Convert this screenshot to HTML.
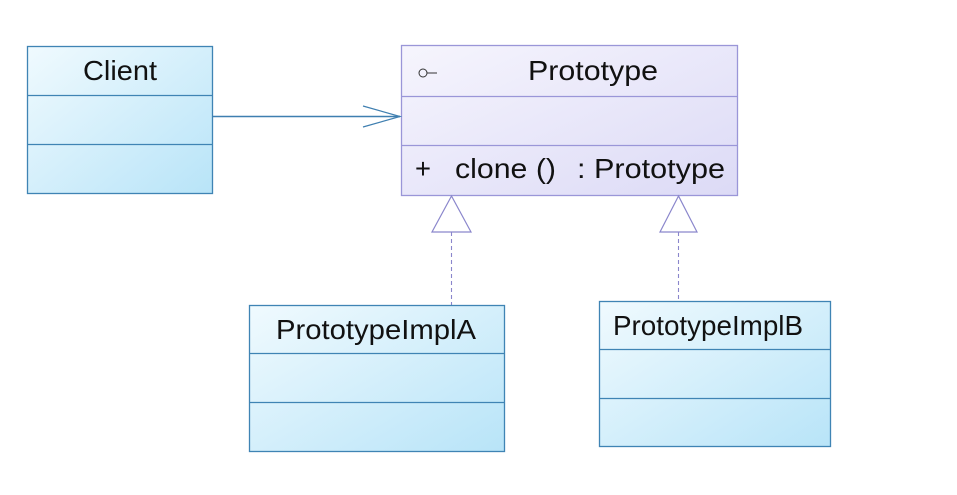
<!DOCTYPE html>
<html><head><meta charset="utf-8"><style>
html,body{margin:0;padding:0;background:#fff;}
body{width:957px;height:495px;position:relative;overflow:hidden;font-family:"Liberation Sans",Arial,sans-serif;}
</style></head><body>
<svg width="957" height="495" viewBox="0 0 957 495" xmlns="http://www.w3.org/2000/svg" style="position:absolute;left:0;top:0">
<defs>
<linearGradient id="blue" x1="0" y1="0" x2="1" y2="1">
<stop offset="0" stop-color="#f0fafe"/><stop offset="1" stop-color="#b8e4f8"/>
</linearGradient>
<linearGradient id="purp" x1="0" y1="0" x2="1" y2="1">
<stop offset="0" stop-color="#f6f5fd"/><stop offset="1" stop-color="#dcdaf6"/>
</linearGradient>
</defs>
<g font-family="Liberation Sans, Arial, sans-serif" fill="#111" font-size="28">
<!-- Client -->
<rect x="27.5" y="46.5" width="185" height="147" fill="url(#blue)" stroke="#3f84b4" stroke-width="1.3"/>
<line x1="27.5" y1="95.5" x2="212.5" y2="95.5" stroke="#3f84b4" stroke-width="1.3"/>
<line x1="27.5" y1="144.5" x2="212.5" y2="144.5" stroke="#3f84b4" stroke-width="1.3"/>
<text x="83" y="80" textLength="74" lengthAdjust="spacingAndGlyphs">Client</text>
<!-- Prototype -->
<rect x="401.5" y="45.5" width="336" height="150" fill="url(#purp)" stroke="#9a96d8" stroke-width="1.3"/>
<line x1="401.5" y1="96.5" x2="737.5" y2="96.5" stroke="#9a96d8" stroke-width="1.3"/>
<line x1="401.5" y1="145.5" x2="737.5" y2="145.5" stroke="#9a96d8" stroke-width="1.3"/>
<circle cx="423" cy="73" r="4" fill="none" stroke="#333" stroke-width="1"/>
<line x1="427" y1="73" x2="437" y2="73" stroke="#333" stroke-width="1"/>
<text x="528" y="80" textLength="130" lengthAdjust="spacingAndGlyphs">Prototype</text>
<text x="415" y="178" textLength="16" lengthAdjust="spacingAndGlyphs">+</text>
<text x="455" y="178" textLength="101" lengthAdjust="spacingAndGlyphs">clone ()</text>
<text x="577" y="178" textLength="148" lengthAdjust="spacingAndGlyphs">: Prototype</text>
<!-- association -->
<line x1="212" y1="116.5" x2="400" y2="116.5" stroke="#3f7fb0" stroke-width="1.6"/>
<polyline points="363,106 400,116.5 363,127" fill="none" stroke="#3f7fb0" stroke-width="1.2"/>
<!-- triangles -->
<polygon points="451.5,196 432,232 471,232" fill="#fff" stroke="#8a86cc" stroke-width="1.2"/>
<line x1="451.5" y1="232" x2="451.5" y2="305" stroke="#8a86cc" stroke-width="1.1" stroke-dasharray="4,3"/>
<polygon points="678.5,196 660,232 697,232" fill="#fff" stroke="#8a86cc" stroke-width="1.2"/>
<line x1="678.5" y1="232" x2="678.5" y2="301" stroke="#8a86cc" stroke-width="1.1" stroke-dasharray="4,3"/>
<!-- ImplA -->
<rect x="249.5" y="305.5" width="255" height="146" fill="url(#blue)" stroke="#3f84b4" stroke-width="1.3"/>
<line x1="249.5" y1="353.5" x2="504.5" y2="353.5" stroke="#3f84b4" stroke-width="1.3"/>
<line x1="249.5" y1="402.5" x2="504.5" y2="402.5" stroke="#3f84b4" stroke-width="1.3"/>
<text x="276" y="339" textLength="200" lengthAdjust="spacingAndGlyphs">PrototypeImplA</text>
<!-- ImplB -->
<rect x="599.5" y="301.5" width="231" height="145" fill="url(#blue)" stroke="#3f84b4" stroke-width="1.3"/>
<line x1="599.5" y1="349.5" x2="830.5" y2="349.5" stroke="#3f84b4" stroke-width="1.3"/>
<line x1="599.5" y1="398.5" x2="830.5" y2="398.5" stroke="#3f84b4" stroke-width="1.3"/>
<text x="613" y="335" textLength="190" lengthAdjust="spacingAndGlyphs">PrototypeImplB</text>
</g>
</svg>
</body></html>
